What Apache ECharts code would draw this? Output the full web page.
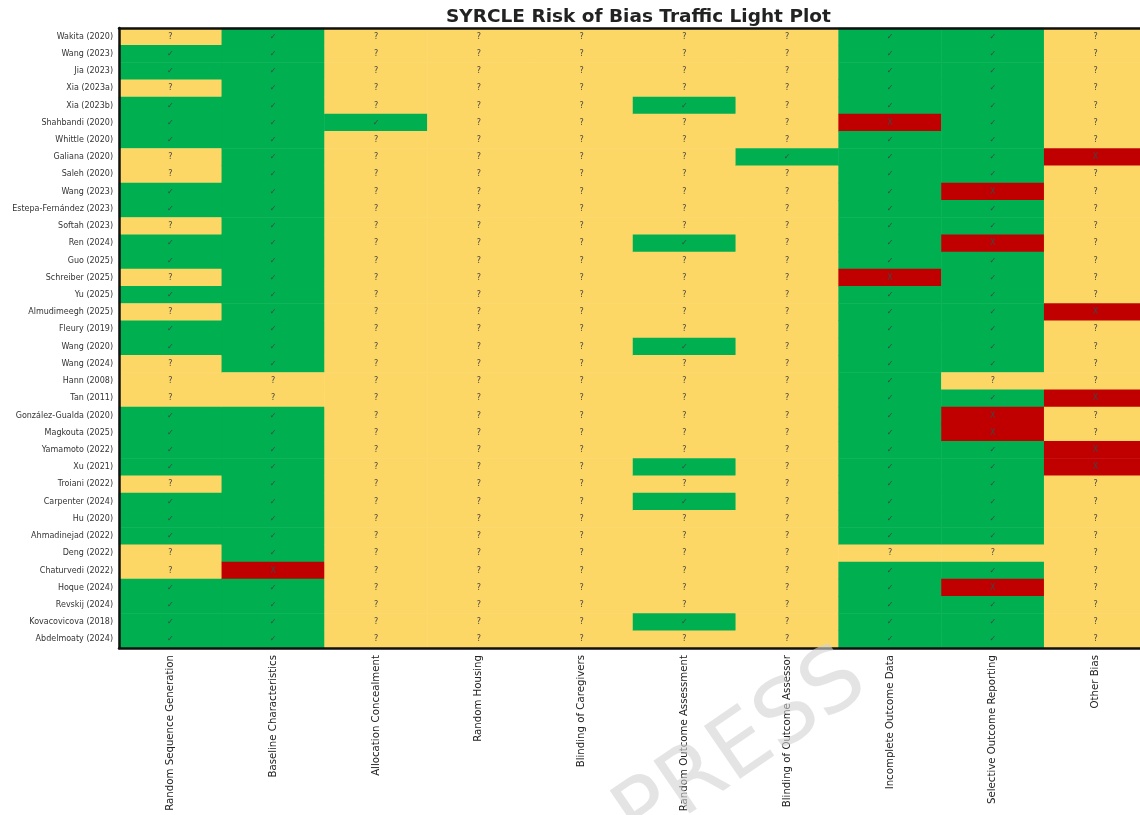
<!DOCTYPE html>
<html>
<head>
    <meta charset="UTF-8">
    <script src="https://cdn.jsdelivr.net/npm/echarts@6/dist/echarts.min.js"></script>
    <style>
        html, body { margin: 0; padding: 0; background: #fff; }
        #main { width: 1140px; height: 815px; }
    </style>
</head>
<body>
<div id="main"></div>
<script>
    // studies (top to bottom)
    var studies = [
        'Wakita (2020)', 'Wang (2023)', 'Jia (2023)', 'Xia (2023a)', 'Xia (2023b)', 'Shahbandi (2020)',
        'Whittle (2020)', 'Galiana (2020)', 'Saleh (2020)', 'Wang (2023)', 'Estepa-Fernández (2023)', 'Softah (2023)',
        'Ren (2024)', 'Guo (2025)', 'Schreiber (2025)', 'Yu (2025)', 'Almudimeegh (2025)', 'Fleury (2019)',
        'Wang (2020)', 'Wang (2024)', 'Hann (2008)', 'Tan (2011)', 'González-Gualda (2020)', 'Magkouta (2025)',
        'Yamamoto (2022)', 'Xu (2021)', 'Troiani (2022)', 'Carpenter (2024)', 'Hu (2020)', 'Ahmadinejad (2022)',
        'Deng (2022)', 'Chaturvedi (2022)', 'Hoque (2024)', 'Revskij (2024)', 'Kovacovicova (2018)', 'Abdelmoaty (2024)'
    ];

    var domains = [
        'Random Sequence Generation', 'Baseline Characteristics', 'Allocation Concealment', 'Random Housing',
        'Blinding of Caregivers', 'Random Outcome Assessment', 'Blinding of Outcome Assessor',
        'Incomplete Outcome Data', 'Selective Outcome Reporting', 'Other Bias'
    ];

    // L = low risk, U = unclear, H = high risk  (one letter per study, groups of 5)
    var randomSequence   = 'ULLUL LLUUL LULLU LULLU UULLL LULLL UULLL L';
    var baseline         = 'LLLLL LLLLL LLLLL LLLLL UULLL LLLLL LHLLL L';
    var allocation       = 'UUUUU LUUUU UUUUU UUUUU UUUUU UUUUU UUUUU U';
    var randomHousing    = 'UUUUU UUUUU UUUUU UUUUU UUUUU UUUUU UUUUU U';
    var blindCaregivers  = 'UUUUU UUUUU UUUUU UUUUU UUUUU UUUUU UUUUU U';
    var randomOutcome    = 'UUUUL UUUUU UULUU UUULU UUUUU LULUU UUUUL U';
    var blindAssessor    = 'UUUUU UULUU UUUUU UUUUU UUUUU UUUUU UUUUU U';
    var incompleteData   = 'LLLLL HLLLL LLLLH LLLLL LLLLL LLLLL ULLLL L';
    var selectiveReport  = 'LLLLL LLLLH LLHLL LLLLL ULHHL LLLLL ULHLL L';
    var otherBias        = 'UUUUU UUHUU UUUUU UHUUU UHUUH HUUUU UUUUU U';

    var judgements = [randomSequence, baseline, allocation, randomHousing, blindCaregivers,
        randomOutcome, blindAssessor, incompleteData, selectiveReport, otherBias];

    var codeValue = { H: 0, U: 1, L: 2 };
    var symbols = ['X', '?', '✓'];

    var cells = [];
    judgements.forEach(function (str, x) {
        str.replace(/\s/g, '').split('').forEach(function (c, y) {
            cells.push([x, y, codeValue[c]]);
        });
    });

    var chart = echarts.init(document.getElementById('main'));
    var font = 'DejaVu Sans';
    chart.setOption({
        animation: false,
        title: {
            text: 'SYRCLE Risk of Bias Traffic Light Plot',
            left: 441, top: 3,
            textStyle: { fontFamily: font, fontSize: 18.5, fontWeight: 'bold', color: '#222' }
        },
        grid: { left: 119, top: 28, width: 1028, height: 620, outerBoundsMode: 'none', containLabel: false },
        visualMap: {
            show: false, type: 'piecewise', dimension: 2,
            pieces: [
                { value: 0, color: '#c00000' },
                { value: 1, color: '#fdd766' },
                { value: 2, color: '#00af50' }
            ]
        },
        xAxis: [{
            type: 'category', data: domains, position: 'bottom', z: 5,
            splitArea: { show: false },
            axisLine: { lineStyle: { color: '#111', width: 2.5 } },
            axisTick: { alignWithLabel: true, length: 4, lineStyle: { color: '#333' } },
            axisLabel: { rotate: 90, interval: 0, fontFamily: font, fontSize: 10.2, color: '#222', margin: 7 }
        }, {
            type: 'category', data: domains, position: 'top', z: 5,
            axisLine: { lineStyle: { color: '#111', width: 2.5 } },
            axisTick: { show: false }, axisLabel: { show: false }
        }],
        yAxis: {
            type: 'category', data: studies, inverse: true, z: 5,
            axisLine: { lineStyle: { color: '#111', width: 2.5 } },
            axisTick: { alignWithLabel: true, length: 4, lineStyle: { color: '#333' } },
            axisLabel: { interval: 0, fontFamily: font, fontSize: 8, color: '#333', margin: 6 }
        },
        series: [{
            type: 'heatmap',
            data: cells,
            itemStyle: { borderWidth: 0 },
            label: {
                show: true, fontFamily: font, fontSize: 8, color: '#444',
                formatter: function (p) { return symbols[p.value[2]]; }
            },
            emphasis: { disabled: true }
        }],
        graphic: [{
            type: 'text', z: 100, x: 742, y: 750, rotation: 0.6,
            style: {
                text: 'PRESS', fontFamily: font, fontSize: 88,
                fill: 'rgba(210,210,210,0.6)', textAlign: 'center', textVerticalAlign: 'middle'
            }
        }]
    });
</script>
</body>
</html>
